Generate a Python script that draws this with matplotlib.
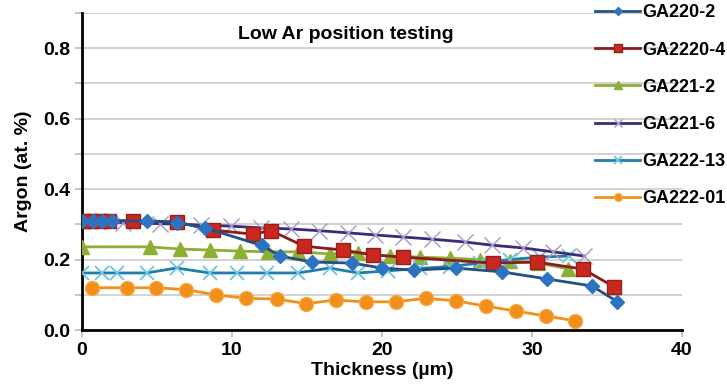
import numpy as np
import matplotlib
matplotlib.use("Agg")
import matplotlib.pyplot as plt

plt.rcParams["font.family"] = ["Liberation Sans", "DejaVu Sans"]

# ---- data (thickness in um, argon in at.%) ----
x_ga220_2 = [0, 0.7, 1.3, 2, 4.3, 6.3, 8.2, 12, 13.2, 15.3, 18, 20, 22.1, 24.9, 28, 31, 34, 35.7]
y_ga220_2 = [0.31, 0.31, 0.31, 0.31, 0.31, 0.305, 0.29, 0.24, 0.21, 0.193, 0.19, 0.176,
             0.17, 0.176, 0.165, 0.145, 0.125, 0.08]

x_ga2220_4 = [0, 0.6, 1.2, 1.8, 3.4, 6.3, 8.7, 11.4, 12.6, 14.8, 17.4, 19.4, 21.4, 27.4, 30.3, 33.4, 35.5]
y_ga2220_4 = [0.31, 0.31, 0.31, 0.31, 0.31, 0.307, 0.284, 0.272, 0.282, 0.238, 0.227, 0.213,
              0.207, 0.19, 0.193, 0.173, 0.122]

x_ga221_2 = [0, 4.5, 6.5, 8.5, 10.5, 12.4, 14.4, 16.5, 18.4, 20.5, 22.5, 24.5, 26.5, 28.5, 30.4, 32.4]
y_ga221_2 = [0.236, 0.236, 0.23, 0.227, 0.224, 0.222, 0.222, 0.216, 0.219, 0.21, 0.207,
             0.204, 0.2, 0.197, 0.19, 0.174]

x_ga221_6 = [0, 1, 2.7, 5.2, 7.9, 9.9, 11.9, 13.9, 15.8, 17.7, 19.5, 21.4, 23.3, 25.5, 27.3,
             29.4, 31.4, 33.5]
y_ga221_6 = [0.31, 0.31, 0.305, 0.302, 0.298, 0.295, 0.29, 0.287, 0.282, 0.276, 0.27, 0.264,
             0.258, 0.25, 0.241, 0.233, 0.222, 0.21]

x_ga222_13 = [0, 1.3, 2.3, 4.3, 6.3, 8.5, 10.3, 12.3, 14.4, 16.5, 18.4, 20.4, 22.5, 24.5,
              26.5, 28.5, 30.5, 32.5]
y_ga222_13 = [0.162, 0.162, 0.162, 0.162, 0.176, 0.162, 0.162, 0.162, 0.162, 0.176, 0.162,
              0.168, 0.175, 0.18, 0.19, 0.2, 0.207, 0.21]

x_ga222_01 = [0.67, 3, 4.9, 6.9, 8.9, 10.9, 13, 14.9, 16.9, 18.9, 20.9, 22.9, 24.9, 26.9,
              28.9, 30.9, 32.9]
y_ga222_01 = [0.12, 0.12, 0.12, 0.115, 0.10, 0.09, 0.088, 0.075, 0.085, 0.08, 0.08, 0.09,
              0.083, 0.068, 0.054, 0.04, 0.026]

labels = ["GA220-2", "GA2220-4", "GA221-2", "GA221-6", "GA222-13", "GA222-01"]

fig = plt.figure(figsize=(7.27, 3.90), dpi=100)
ax = fig.add_axes([0.1128, 0.1538, 0.8253, 0.8129])

# gridlines first, so the series sit on top
ax.set_yticks(np.arange(0, 0.91, 0.2))
ax.set_yticks(np.arange(0.1, 0.91, 0.2), minor=True)
ax.grid(True, axis="y", which="both", color="#cfcfcf", lw=1.3, zorder=0)

ax.plot(x_ga222_01, y_ga222_01, "-o", color="#f0901a", mec="#f7a640", ms=10, lw=2,
        label=labels[5], zorder=3)
ax.plot(x_ga221_2, y_ga221_2, "-^", color="#8caf34", mec="#8caf34", ms=10, lw=2,
        label=labels[2], zorder=3)
ax.plot(x_ga222_13, y_ga222_13, "-", color="#1f7fa8", marker="x", mec="#6cc4e8", ms=10,
        mew=1.3, lw=2, label=labels[4], zorder=3)
ax.plot(x_ga221_6, y_ga221_6, "-", color="#3e2a78", marker="x", mec="#a598c8", ms=11,
        mew=1.0, lw=2, label=labels[3], zorder=4)
ax.plot(x_ga2220_4, y_ga2220_4, "-s", color="#8e1b1b", mfc="#c8281f", mec="#9a1e1a", ms=10,
        lw=2, label=labels[1], zorder=4)
ax.plot(x_ga220_2, y_ga220_2, "-D", color="#234f85", mfc="#2e73c2", mec="#2e73c2", ms=7,
        lw=2, label=labels[0], zorder=5)

ax.set_xlim(0, 40)
ax.set_ylim(0, 0.9)
ax.set_xticks([0, 10, 20, 30, 40])
ax.set_yticklabels(["0.0", "0.2", "0.4", "0.6", "0.8"])
for s in ("top", "right"):
    ax.spines[s].set_visible(False)
for s in ("left", "bottom"):
    ax.spines[s].set_linewidth(2)
    ax.spines[s].set_color("black")
ax.tick_params(axis="both", which="both", length=5, color="#bbbbbb", width=1.2,
               labelsize=14)
for t in ax.get_xticklabels() + ax.get_yticklabels():
    t.set_fontweight("bold")

ax.set_xlabel("Thickness (µm)", fontsize=14, fontweight="bold", labelpad=2)
ax.set_ylabel("Argon (at. %)", fontsize=14, fontweight="bold", labelpad=8)
ax.text(17.6, 0.84, "Low Ar position testing", ha="center", va="center",
        fontsize=14, fontweight="bold")

# legend to the right of the plot, as in the original
handles, labs = ax.get_legend_handles_labels()
order = [labs.index(l) for l in labels]
fig.legend([handles[i] for i in order], [labs[i] for i in order],
           loc="upper left", bbox_to_anchor=(0.806, 1.012), frameon=False,
           prop={"weight": "bold", "size": 13}, handlelength=2.5,
           handletextpad=0.1, labelspacing=1.12, markerscale=0.55, borderpad=0.0)

fig.savefig("out.png", dpi=100)
